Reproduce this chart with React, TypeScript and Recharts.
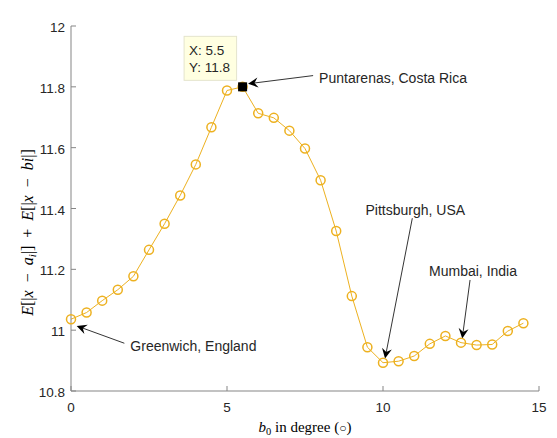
import { LineChart, Line, XAxis, YAxis, ReferenceLine, ReferenceDot } from "recharts";

// b0 offsets (degree) and the measured cost at each offset
const offsets = [0, 0.5, 1, 1.5, 2, 2.5, 3, 3.5, 4, 4.5, 5, 5.5, 6, 6.5, 7, 7.5, 8, 8.5, 9, 9.5, 10, 10.5, 11, 11.5, 12, 12.5, 13, 13.5, 14, 14.5];
const costs = [
  11.036, 11.058, 11.097, 11.133, 11.177, 11.264, 11.35, 11.443, 11.545, 11.667,
  11.788, 11.8, 11.713, 11.698, 11.656, 11.597, 11.493, 11.326, 11.112, 10.944,
  10.893, 10.898, 10.915, 10.955, 10.981, 10.959, 10.951, 10.953, 10.997, 11.023,
];

const xTicks = [0, 5, 10, 15];
const yTicks = [10.8, 11, 11.2, 11.4, 11.6, 11.8, 12];

// data tip on the selected point
const tipIndex = 11;

// text arrows, in data units: [x, y] of the tail and of the head
const noteLabels = ["Puntarenas, Costa Rica", "Pittsburgh, USA", "Mumbai, India", "Greenwich, England"];
const noteTails = [[7.76, 11.837], [10.94, 11.368], [12.79, 11.165], [1.71, 10.957]];
const noteHeads = [[5.675, 11.81], [10.065, 10.907], [12.54, 10.973], [0.183, 11.014]];
const noteSides = ["right", "above", "above", "right"];

const data = offsets.map((x, i) => ({ x, y: costs[i] }));

const SANS = "'Liberation Sans', Arial, sans-serif";
const SERIF = "'Liberation Serif', 'Times New Roman', serif";
const AXIS = "#858585";
const INK = "#262626";
const ORANGE = "#EDB120";
const GAP = "\u2002";

const BottomTick = (p: any) => (
  <g>
    <line x1={p.x} y1={p.y} x2={p.x} y2={p.y - 5} stroke={AXIS} />
    <text x={p.x} y={p.y + 20.5} textAnchor="middle" fontFamily={SANS} fontSize={13.5} fill={INK}>
      {p.payload.value}
    </text>
  </g>
);

const TopTick = (p: any) => <line x1={p.x} y1={p.y} x2={p.x} y2={p.y + 5} stroke={AXIS} />;

const LeftTick = (p: any) => (
  <g>
    <line x1={p.x} y1={p.y} x2={p.x + 5} y2={p.y} stroke={AXIS} />
    <text x={p.x - 6} y={p.y + 6} textAnchor="end" fontFamily={SANS} fontSize={13.5} fill={INK}>
      {p.payload.value}
    </text>
  </g>
);

const RightTick = (p: any) => <line x1={p.x} y1={p.y} x2={p.x - 5} y2={p.y} stroke={AXIS} />;

const Title = (p: any) => {
  const vb = p.viewBox;
  return (
    <text x={vb.x + vb.width / 2} y={vb.y - 8} textAnchor="middle" fontFamily={SERIF} fontSize={15} fill="#000">
      The uniform time zone with 24 segments
    </text>
  );
};

const XTitle = (p: any) => {
  const vb = p.viewBox;
  return (
    <text x={vb.x + vb.width / 2} y={vb.y + 41} textAnchor="middle" fontFamily={SERIF} fontSize={15} fill="#000">
      <tspan fontStyle="italic">b</tspan>
      <tspan fontSize={10.5} dy={3}>0</tspan>
      <tspan dy={-3}> in degree (</tspan>
      <tspan fontSize={12}>○</tspan>
      <tspan>)</tspan>
    </text>
  );
};

const YTitle = (p: any) => {
  const vb = p.viewBox;
  const cx = vb.x + 33;
  const cy = vb.y + vb.height / 2 + 24;
  return (
    <text x={cx} y={cy} transform={`rotate(-90, ${cx}, ${cy})`} textAnchor="middle" fontFamily={SERIF} fontSize={16} fill="#000">
      <tspan fontStyle="italic">E</tspan>
      <tspan>[|</tspan>
      <tspan fontStyle="italic">x</tspan>
      <tspan>{GAP}−{GAP}</tspan>
      <tspan fontStyle="italic">a</tspan>
      <tspan fontStyle="italic" fontSize={11} dy={3}>i</tspan>
      <tspan dy={-3}>|]{GAP}+{GAP}</tspan>
      <tspan fontStyle="italic">E</tspan>
      <tspan>[|</tspan>
      <tspan fontStyle="italic">x</tspan>
      <tspan>{GAP}−{GAP}</tspan>
      <tspan fontStyle="italic">bi</tspan>
      <tspan>|]</tspan>
    </text>
  );
};

const TipShape = (p: any) => {
  const { cx, cy } = p;
  return (
    <g>
      <rect x={cx - 58.5} y={cy - 50.5} width={52.5} height={44} fill="#ffffe1" stroke="#e4e4cc" />
      <text x={cx - 53.5} y={cy - 32} fontFamily={SANS} fontSize={13.5} fill={INK}>
        X: {offsets[tipIndex]}
      </text>
      <text x={cx - 53.5} y={cy - 14.5} fontFamily={SANS} fontSize={13.5} fill={INK}>
        Y: {costs[tipIndex].toFixed(1)}
      </text>
      <rect x={cx - 4.5} y={cy - 4.5} width={9} height={9} fill="#000" />
    </g>
  );
};

const arrowShape = (i: number) => (p: any) => {
  const { x1, y1, x2, y2 } = p;
  const dx = x2 - x1;
  const dy = y2 - y1;
  const len = Math.hypot(dx, dy) || 1;
  const ux = dx / len;
  const uy = dy / len;
  const nx = -uy;
  const ny = ux;
  const bx = x2 - ux * 10;
  const by = y2 - uy * 10;
  const kx = x2 - ux * 6.5;
  const ky = y2 - uy * 6.5;
  const head = `${x2},${y2} ${bx + nx * 5},${by + ny * 5} ${kx},${ky} ${bx - nx * 5},${by - ny * 5}`;
  const right = noteSides[i] === "right";
  return (
    <g>
      <line x1={x1} y1={y1} x2={kx} y2={ky} stroke="#000" strokeWidth={0.8} />
      <polygon points={head} fill="#000" />
      <text
        x={right ? x1 + 6 : x1 + 3}
        y={right ? y1 + 7.5 : y1 - 3.5}
        textAnchor={right ? "start" : "middle"}
        fontFamily={SANS}
        fontSize={14}
        fill={INK}
      >
        {noteLabels[i]}
      </text>
    </g>
  );
};

export default function App() {
  return (
    <div style={{ position: "absolute", left: 0, top: 0, background: "#fff" }}>
      <LineChart width={557} height={438} data={data} margin={{ top: 26, right: 18, left: 0, bottom: 0 }}>
        <XAxis
          dataKey="x"
          type="number"
          domain={[0, 15]}
          ticks={xTicks}
          interval={0}
          height={47}
          tickSize={0}
          tickMargin={0}
          tickLine={false}
          tick={BottomTick}
          axisLine={{ stroke: AXIS }}
          label={{ content: XTitle }}
        />
        <XAxis
          xAxisId="top"
          orientation="top"
          dataKey="x"
          type="number"
          domain={[0, 15]}
          ticks={xTicks}
          interval={0}
          height={0}
          tickSize={0}
          tickMargin={0}
          tickLine={false}
          tick={TopTick}
          axisLine={{ stroke: AXIS }}
          label={{ content: Title }}
        />
        <YAxis
          type="number"
          domain={[10.8, 12]}
          ticks={yTicks}
          interval={0}
          width={71}
          tickSize={0}
          tickMargin={0}
          tickLine={false}
          tick={LeftTick}
          axisLine={{ stroke: AXIS }}
          label={{ content: YTitle }}
        />
        <YAxis
          yAxisId="right"
          orientation="right"
          type="number"
          domain={[10.8, 12]}
          ticks={yTicks}
          interval={0}
          width={0}
          tickSize={0}
          tickMargin={0}
          tickLine={false}
          tick={RightTick}
          axisLine={{ stroke: AXIS }}
        />
        <Line
          dataKey="y"
          type="linear"
          stroke={ORANGE}
          strokeWidth={1}
          dot={{ r: 4.5, stroke: ORANGE, strokeWidth: 1.5, fill: "none" }}
          activeDot={false}
          isAnimationActive={false}
        />
        {noteLabels.map((_, i) => (
          <ReferenceLine
            key={noteLabels[i]}
            segment={[
              { x: noteTails[i][0], y: noteTails[i][1] },
              { x: noteHeads[i][0], y: noteHeads[i][1] },
            ]}
            shape={arrowShape(i)}
          />
        ))}
        <ReferenceDot x={offsets[tipIndex]} y={costs[tipIndex]} shape={TipShape} />
      </LineChart>
    </div>
  );
}
